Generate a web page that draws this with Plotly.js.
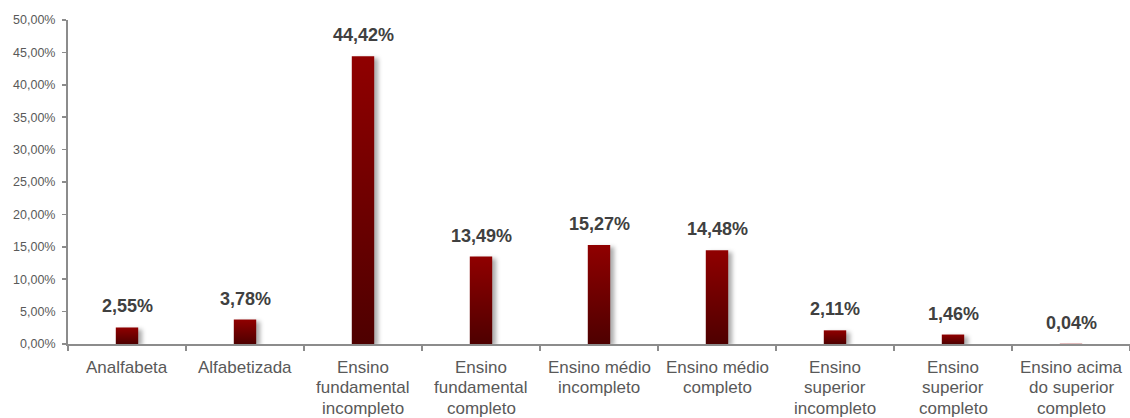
<!DOCTYPE html>
<html>
<head>
<meta charset="utf-8">
<script src="https://cdn.plot.ly/plotly-3.0.1.min.js"></script>
<style>
  html, body { margin: 0; padding: 0; background: #fff; }
  #chart { width: 1130px; height: 418px; }
  /* soft shadow cast to the lower right of each bar */
  .bars .point path { filter: drop-shadow(4px 2px 2px rgba(0,0,0,0.32)); }
</style>
</head>
<body>
<div id="chart"></div>
<script>
// Escolaridade: share of each education level (%)
const categories = [
  "Analfabeta", "Alfabetizada", "Ensino fundamental incompleto",
  "Ensino fundamental completo", "Ensino médio incompleto", "Ensino médio completo",
  "Ensino superior incompleto", "Ensino superior completo", "Ensino acima do superior completo"
];
// category labels, one entry per printed line
const labelLines = [
  ["Analfabeta"], ["Alfabetizada"], ["Ensino", "fundamental", "incompleto"],
  ["Ensino", "fundamental", "completo"], ["Ensino médio", "incompleto"], ["Ensino médio", "completo"],
  ["Ensino", "superior", "incompleto"], ["Ensino", "superior", "completo"], ["Ensino acima", "do superior", "completo"]
];
const values = [2.55, 3.78, 44.42, 13.49, 15.27, 14.48, 2.11, 1.46, 0.04];
const yTicks = [0, 5, 10, 15, 20, 25, 30, 35, 40, 45, 50];

const pct = v => v.toFixed(2).replace('.', ',') + '%';
const FONT = '"Liberation Sans", Arial, sans-serif';
const LABEL_SIZE = 17;
const LINE_STEP = 20.7;   // baseline-to-baseline distance of category labels
const FIRST_LINE = 23;    // distance from the x axis to the first label line

const trace = {
  type: 'bar',
  x: categories,
  y: values,
  marker: { color: '#7a0000', line: { width: 0 } },
  hoverinfo: 'skip'
};

// value labels above the bars
const valueLabels = categories.map((c, i) => ({
  x: c, y: values[i], xref: 'x', yref: 'y',
  text: '<b>' + pct(values[i]) + '</b>',
  showarrow: false, yanchor: 'middle', yshift: 21,
  font: { family: FONT, size: 18, color: '#404040' }
}));

// category labels below the axis, placed line by line
const categoryLabels = [];
categories.forEach((c, i) => {
  labelLines[i].forEach((line, k) => {
    categoryLabels.push({
      x: c, y: 0, xref: 'x', yref: 'paper',
      text: line, showarrow: false,
      xanchor: 'center', yanchor: 'middle',
      yshift: -(FIRST_LINE + k * LINE_STEP),
      font: { family: FONT, size: LABEL_SIZE, color: '#595959' }
    });
  });
});

const layout = {
  width: 1130, height: 418,
  margin: { l: 68, r: 0, t: 20, b: 74 },
  paper_bgcolor: '#ffffff', plot_bgcolor: '#ffffff',
  bargap: 0.81,
  showlegend: false,
  font: { family: FONT, color: '#595959' },
  xaxis: {
    type: 'category',
    range: [-0.5, 8.5],
    tickson: 'boundaries',
    ticks: 'outside', ticklen: 5, tickwidth: 1.5, tickcolor: '#8c8c8c',
    showticklabels: false,
    showline: true, linecolor: '#8c8c8c', linewidth: 2,
    showgrid: false, zeroline: false
  },
  yaxis: {
    range: [0, 50],
    tickmode: 'array', tickvals: yTicks, ticktext: yTicks.map(pct),
    ticks: 'outside', ticklen: 4, tickwidth: 1.5, tickcolor: '#8c8c8c',
    showline: true, linecolor: '#8c8c8c', linewidth: 2,
    showgrid: false, zeroline: false,
    tickfont: { family: FONT, size: 12.5, color: '#595959' },
    ticklabelstandoff: 4
  },
  annotations: valueLabels.concat(categoryLabels)
};

Plotly.newPlot('chart', [trace], layout, { displayModeBar: false, staticPlot: true }).then(gd => {
  // vertical red gradient on every bar: bright at the top, dark at the base
  const svg = gd.querySelector('svg.main-svg');
  const NS = 'http://www.w3.org/2000/svg';
  let defs = svg.querySelector('defs');
  if (!defs) { defs = document.createElementNS(NS, 'defs'); svg.insertBefore(defs, svg.firstChild); }
  const grad = document.createElementNS(NS, 'linearGradient');
  grad.setAttribute('id', 'barGrad');
  grad.setAttribute('x1', '0'); grad.setAttribute('y1', '0');
  grad.setAttribute('x2', '0'); grad.setAttribute('y2', '1');
  [['0', '#900000'], ['1', '#4e0000']].forEach(([o, c]) => {
    const s = document.createElementNS(NS, 'stop');
    s.setAttribute('offset', o); s.setAttribute('stop-color', c);
    grad.appendChild(s);
  });
  defs.appendChild(grad);
  gd.querySelectorAll('.bars .point path').forEach(p => { p.style.fill = 'url(#barGrad)'; });
});
</script>
</body>
</html>
